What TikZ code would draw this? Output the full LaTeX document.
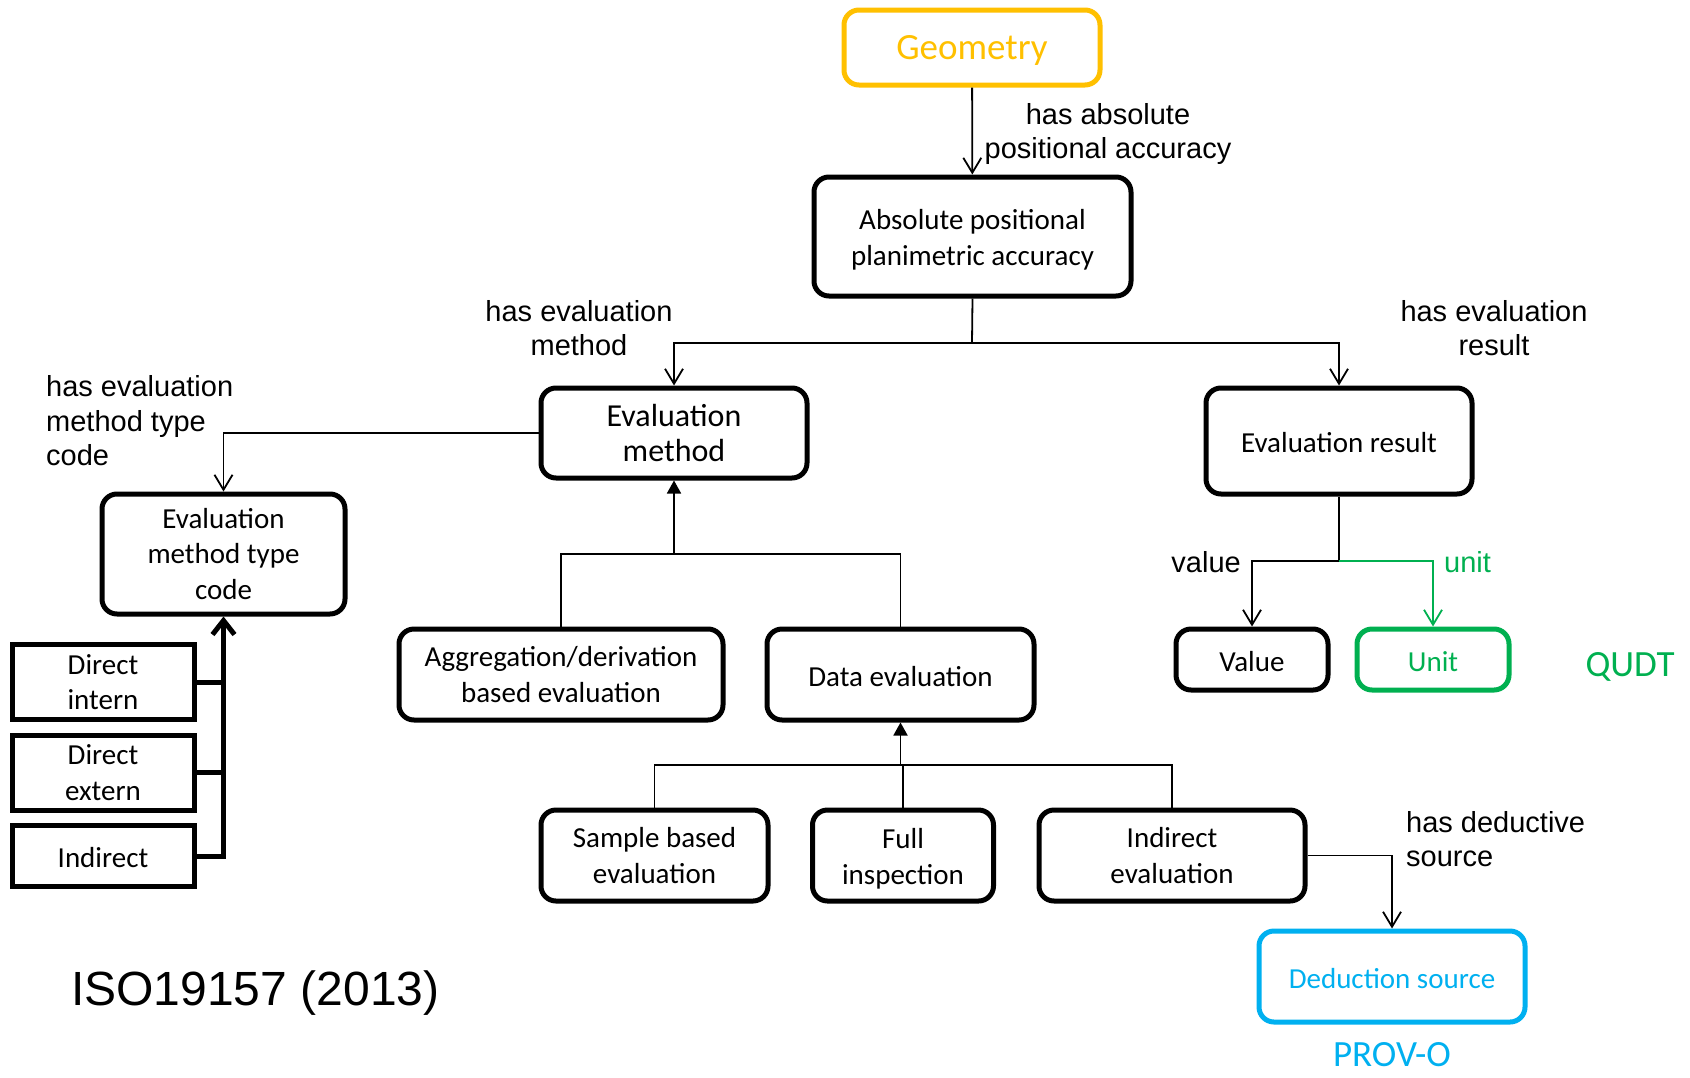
\documentclass[tikz,border=0pt]{standalone}
\usepackage{fontspec}
\setmainfont{Carlito}
\newfontfamily\arialf{Liberation Sans}
\usetikzlibrary{arrows.meta}
\definecolor{geoorange}{HTML}{FFC000}
\definecolor{qgreen}{HTML}{00B050}
\definecolor{pblue}{HTML}{00B0F0}
\begin{document}
\begin{tikzpicture}[x=1pt,y=-1pt,
  box/.style={draw,line width=5pt,rounded corners=15pt,align=center,inner sep=0pt,
     font=\fontsize{29}{35.5}\selectfont,execute at begin node={\rule{0pt}{0.8em}}},
  sqbox/.style={draw,line width=5pt,align=center,inner sep=0pt,
     font=\fontsize{29}{35.5}\selectfont,minimum width=182pt,execute at begin node={\rule{0pt}{0.8em}}},
  tall/.style={execute at begin node={\rule{0pt}{#1}}},
  lbl/.style={font=\arialf\fontsize{29}{34.5}\selectfont,inner sep=0pt},
  arr/.style={line width=1.8pt,-{Straight Barb[length=15pt,width=18pt,line width=1.8pt]}},
  conn/.style={line width=1.8pt},
  filled/.style={line width=1.8pt,-{Triangle[length=13pt,width=14pt]}},
  thickc/.style={line width=5pt},
  thickarr/.style={line width=5pt,-{Straight Barb[length=14pt,width=22pt,line width=5pt]}}
]
\useasboundingbox[fill=white] (0,0) rectangle (1690,1077);

% nodes
\node[box,draw=geoorange,text=geoorange,minimum width=256pt,minimum height=75pt,
  font=\fontsize{37}{44}\selectfont] (geo) at (972,47.5) {Geometry};
\node[box,tall=62pt,minimum width=317pt,minimum height=119pt] (abs) at (972.5,236.5)
  {Absolute positional\\planimetric accuracy};
\node[box,minimum width=266pt,minimum height=90pt,font=\fontsize{32}{35}\selectfont]
  (em) at (674,433) {Evaluation\\method};
\node[box,minimum width=266pt,minimum height=106pt] (er) at (1339,441) {Evaluation result};
\node[box,minimum width=243pt,minimum height=120pt] (emtc) at (223.5,554)
  {Evaluation\\method type\\code};
\node[sqbox,minimum height=75pt] (di) at (103,682) {Direct\\intern};
\node[sqbox,minimum height=75pt] (dx) at (103,772.5) {Direct\\extern};
\node[sqbox,minimum height=61pt] (ind) at (103,856) {Indirect};
\node[box,minimum width=324pt,minimum height=91pt] (agg) at (561,674.5)
  {Aggregation/derivation\\based evaluation};
\node[box,minimum width=267pt,minimum height=91pt] (de) at (900.5,674.5) {Data evaluation};
\node[box,minimum width=152pt,minimum height=61pt] (val) at (1252,659.5) {Value};
\node[box,draw=qgreen,text=qgreen,minimum width=152pt,minimum height=61pt] (unit) at (1433,659.5) {Unit};
\node[box,minimum width=227pt,minimum height=91pt] (sb) at (654.5,855.5)
  {Sample based\\evaluation};
\node[box,tall=62pt,minimum width=181pt,minimum height=91pt] (fi) at (903,855.5)
  {Full\\inspection};
\node[box,minimum width=266pt,minimum height=91pt] (ie) at (1172,855.5)
  {Indirect\\evaluation};
\node[box,draw=pblue,text=pblue,minimum width=266pt,minimum height=91pt] (ds) at (1392,976.5)
  {Deduction source};

% junctions
\coordinate (j1) at (972,343);
\coordinate (j2) at (674,554);
\coordinate (j3) at (900.5,765);
\coordinate (j4) at (1339,561);

% connectors
\draw[arr] (geo) -- (abs);
\draw[conn] (abs.south) -- (j1);
\draw[arr] (j1) -| (em.north);
\draw[arr] (j1) -| (er.north);
\draw[arr] (em.west) -| (emtc.north);

\draw[thickc] (di.east) -- (di.east -| emtc.south);
\draw[thickc] (dx.east) -- (dx.east -| emtc.south);
\draw[thickarr] (ind.east) -| (emtc.south);

\draw[conn] (agg.north) |- (j2) -| (de.north);
\draw[filled] (j2) -- (em.south);

\draw[filled] (j3) -- (de.south);
\draw[conn] (sb.north) |- (j3) -| (ie.north);
\draw[conn] (fi.north) -- (fi.north |- j3);

\draw[conn] (er.south) -- (j4);
\draw[arr] (j4) -| (val.north);
\draw[arr,qgreen] (j4) -| (unit.north);

\draw[arr] (ie.east) -| (ds.north);

% labels
\node[lbl,align=center] (l1) at (1108,134) {has absolute\\positional accuracy};
\node[lbl,align=center] (l2) at (579,328) {has evaluation\\method};
\node[lbl,align=center] (l3) at (1494,328) {has evaluation\\result};
\node[lbl,align=left,anchor=west] (l4) at (46,421) {has evaluation\\method type\\code};
\node[lbl,anchor=east] (l5) at (1241,562) {value};
\node[lbl,anchor=west,text=qgreen] (l6) at (1444,562) {unit};
\node[lbl,align=left,anchor=west] (l7) at (1406,839) {has deductive\\source};
\node[text=qgreen,font=\fontsize{37}{44}\selectfont,inner sep=0pt] (qudt) at (1630,667) {QUDT};
\node[text=pblue,font=\fontsize{37}{44}\selectfont,inner sep=0pt] (prov) at (1392,1055) {PROV-O};
\node[font=\arialf\fontsize{48}{56}\selectfont,inner sep=0pt,anchor=west] (iso) at (71,993) {ISO19157 (2013)};
\end{tikzpicture}
\end{document}
